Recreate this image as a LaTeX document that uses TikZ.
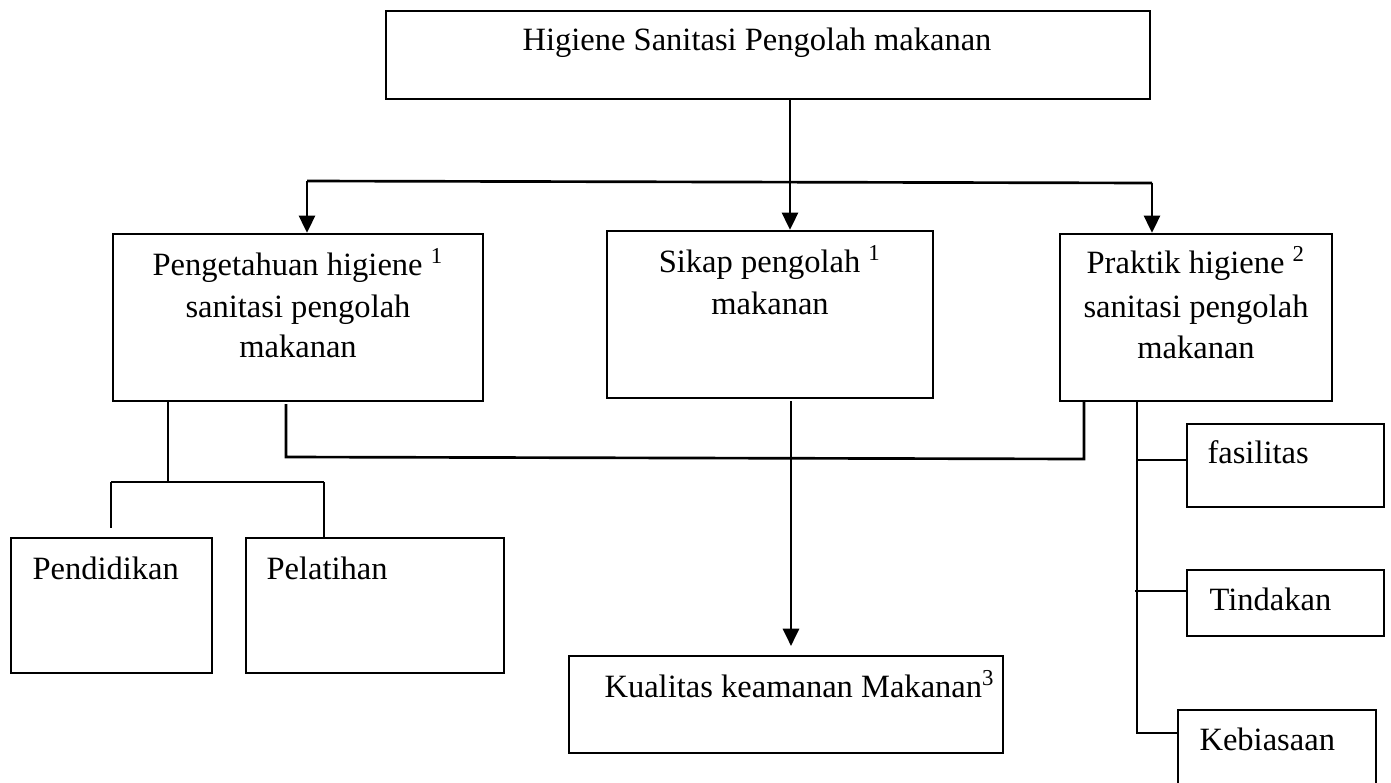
\documentclass[tikz,border=0pt]{standalone}
\usepackage{fontspec}
\setmainfont{Liberation Serif}
\usetikzlibrary{arrows.meta,fit}
\begin{document}
\begin{tikzpicture}[x=0.375pt,y=-0.375pt,
  box/.style={draw,line width=0.85pt,inner sep=0pt},
  txt/.style={inner sep=0pt,font=\fontsize{12.2}{15}\selectfont},
  arr/.style={line width=1.1pt,-{Triangle[width=6pt,length=6.5pt]}},
  ln/.style={line width=0.7pt},
  thk/.style={line width=1pt}]
\useasboundingbox (0,0) rectangle (1391,783);
\clip (0,0) rectangle (1391,783);
% boxes
\node[box,fit={(386,11)(1150,99)}] (T) {};
\node[box,fit={(113,234)(483,401)}] (L) {};
\node[box,fit={(607,231)(933,398)}] (M) {};
\node[box,fit={(1060,234)(1332,401)}] (R) {};
\node[box,fit={(11,538)(212,673)}] (P1) {};
\node[box,fit={(246,538)(504,673)}] (P2) {};
\node[box,fit={(569,656)(1003,753)}] (K) {};
\node[box,fit={(1187,424)(1384,507)}] (F) {};
\node[box,fit={(1187,570)(1384,636)}] (Tn) {};
\node[box,fit={(1178,710)(1376,800)}] (Kb) {};
% texts
\node[txt,anchor=base] (Tt) at (757,50) {Higiene Sanitasi Pengolah makanan};
\node[txt,anchor=base] (Lt1) at (298,275) {Pengetahuan higiene \textsuperscript{1}};
\node[txt,anchor=base] (Lt2) at (298,317) {sanitasi pengolah};
\node[txt,anchor=base] (Lt3) at (298,357) {makanan};
\node[txt,anchor=base] (Mt1) at (770,272) {Sikap pengolah \textsuperscript{1}};
\node[txt,anchor=base] (Mt2) at (770,314) {makanan};
\node[txt,anchor=base] (Rt1) at (1196,273) {Praktik higiene \textsuperscript{2}};
\node[txt,anchor=base] (Rt2) at (1196,317) {sanitasi pengolah};
\node[txt,anchor=base] (Rt3) at (1196,358) {makanan};
\node[txt,anchor=base west] (P1t) at (32,579) {Pendidikan};
\node[txt,anchor=base west] (P2t) at (266,579) {Pelatihan};
\node[txt,anchor=base west] (Kt) at (604,697) {Kualitas keamanan Makanan\textsuperscript{3}};
\node[txt,anchor=base west] (Ft) at (1207,463) {fasilitas};
\node[txt,anchor=base west] (Tnt) at (1209,610) {Tindakan};
\node[txt,anchor=base west] (Kbt) at (1199,750) {Kebiasaan};
% junction coordinates
\coordinate (ax) at (790,0);
\coordinate (h1) at (307,181);
\coordinate (h2) at (1152,183);
\coordinate (a1) at (168,482);
\coordinate (a2) at (111,482);
\coordinate (a3) at (324,482);
\coordinate (a4) at (111,528);
\coordinate (b1) at (286,404);
\coordinate (b2) at (286,457);
\coordinate (b3) at (1084,459);
\coordinate (c1) at (791,401);
\coordinate (c2) at (791,646);
\coordinate (d1) at (1137,0);
\coordinate (d2) at (1137,733);
\coordinate (e1) at (1137,460);
\coordinate (e2) at (1135,591);
% connectors
\draw[arr] (T.south -| ax) -- (M.north -| ax);
\draw[thk] (h1) -- (h2);
\draw[arr] (h1) -- (L.north -| h1);
\draw[arr] (h2) -- (R.north -| h2);
\draw[ln] (L.south -| a1) -- (a1);
\draw[ln] (a2) -- (a3);
\draw[ln] (a2) -- (a4);
\draw[ln] (a3) -- (P2.north -| a3);
\draw[thk] (b1) -- (b2) -- (b3) -- (R.south -| b3);
\draw[arr] (c1) -- (c2);
\draw[thk] (R.south -| d1) -- (d2) -- (Kb.west |- d2);
\draw[thk] (e1) -- (F.west |- e1);
\draw[ln] (e2) -- (Tn.west |- e2);
\end{tikzpicture}
\end{document}
